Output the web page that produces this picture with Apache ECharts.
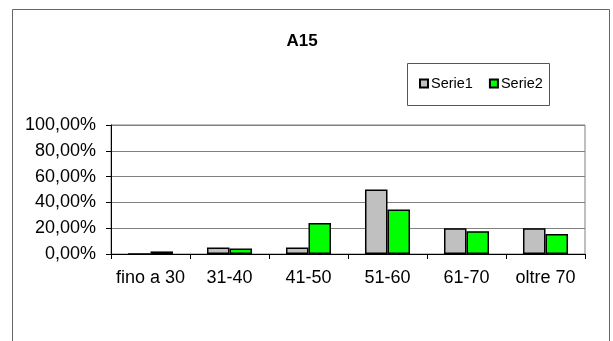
<!DOCTYPE html>
<html>
<head>
<meta charset="utf-8">
<script src="https://cdn.jsdelivr.net/npm/echarts@6/dist/echarts.min.js"></script>
<style>
  html, body { margin: 0; padding: 0; background: #fff; }
  #chart { width: 613px; height: 341px; }
</style>
</head>
<body>
<div id="chart"></div>
<script>
// Age bands and shares (fractions of 1) for the two series
const categories = ['fino a 30', '31-40', '41-50', '51-60', '61-70', 'oltre 70'];
const serie1 = [0, 0.05, 0.05, 0.50, 0.20, 0.20];
const serie2 = [0.02, 0.043, 0.24, 0.345, 0.177, 0.155];
const seriesNames = ['Serie1', 'Serie2'];
const chartTitle = 'A15';

const FONT = '"Liberation Sans", Arial, sans-serif';

function pct(v) {
  return (v * 100).toFixed(2).replace('.', ',') + '%';
}

const chart = echarts.init(document.getElementById('chart'), null, { renderer: 'canvas' });

chart.setOption({
  animation: false,
  backgroundColor: '#ffffff',
  graphic: [
    {
      type: 'rect',
      shape: { x: 12.5, y: 9.5, width: 597, height: 400 },
      style: { fill: 'none', stroke: '#666', lineWidth: 1 },
      silent: true
    },
    {
      type: 'rect',
      shape: { x: 407.5, y: 63.5, width: 142, height: 42 },
      style: { fill: '#fff', stroke: '#555', lineWidth: 1 },
      silent: true,
      z: 0
    },
    {
      type: 'text',
      x: 302,
      y: 41,
      style: {
        text: chartTitle,
        fontFamily: FONT,
        fontSize: 17,
        fontWeight: 'bold',
        fill: '#000',
        align: 'center',
        verticalAlign: 'middle'
      },
      silent: true
    }
  ],
  legend: {
    data: seriesNames,
    left: 419,
    top: 76,
    padding: 0,
    itemWidth: 8,
    itemHeight: 8,
    itemGap: 16,
    icon: 'rect',
    textStyle: { fontFamily: FONT, fontSize: 14.5, color: '#000', padding: [0, 0, 0, -2] },
    z: 5
  },
  grid: {
    left: 111,
    top: 125,
    right: 28,
    bottom: 87,
    show: true,
    borderColor: '#808080',
    borderWidth: 1,
    containLabel: false
  },
  xAxis: {
    type: 'category',
    data: categories,
    axisLine: { show: true, lineStyle: { color: '#000', width: 1 } },
    axisTick: { show: true, length: 5, lineStyle: { color: '#000' } },
    axisLabel: { fontFamily: FONT, fontSize: 18, color: '#000', margin: 15, interval: 0, hideOverlap: false },
    splitLine: { show: false }
  },
  yAxis: {
    type: 'value',
    min: 0,
    max: 1,
    interval: 0.2,
    axisLine: { show: true, lineStyle: { color: '#000', width: 1 } },
    axisTick: { show: true, length: 5, lineStyle: { color: '#000' } },
    axisLabel: { fontFamily: FONT, fontSize: 18, color: '#000', margin: 15, formatter: pct },
    splitLine: { show: true, lineStyle: { color: '#808080', width: 1 } }
  },
  series: [
    {
      name: seriesNames[0],
      type: 'bar',
      data: serie1,
      barGap: '0%',
      barCategoryGap: '43%',
      itemStyle: { color: '#C0C0C0', borderColor: '#000', borderWidth: 1.5 }
    },
    {
      name: seriesNames[1],
      type: 'bar',
      data: serie2,
      barGap: '0%',
      barCategoryGap: '43%',
      itemStyle: { color: '#00FF00', borderColor: '#000', borderWidth: 1.5 }
    }
  ]
});
</script>
</body>
</html>
